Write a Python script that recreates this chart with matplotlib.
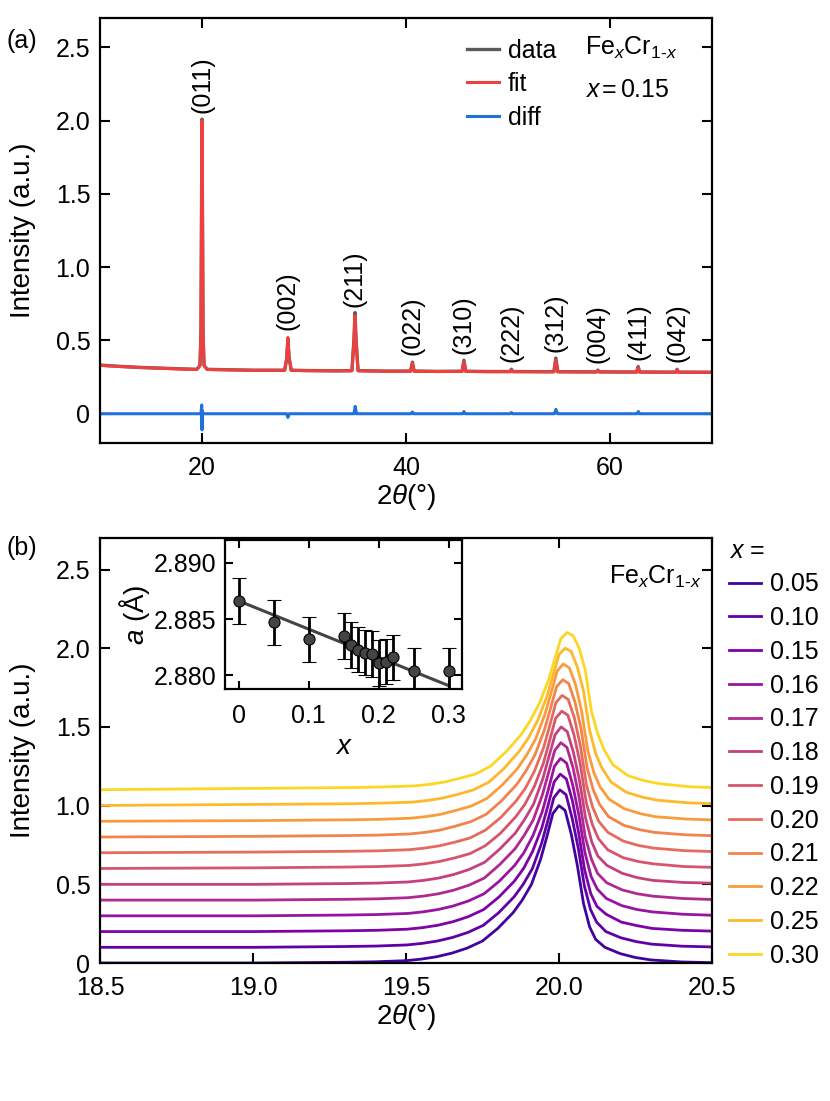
import numpy as np
import matplotlib
matplotlib.use("Agg")
import matplotlib.pyplot as plt
from matplotlib.ticker import FixedLocator, FixedFormatter

plt.rcParams['font.family'] = ['Liberation Sans', 'DejaVu Sans']
plt.rcParams['mathtext.fontset'] = 'custom'
plt.rcParams['mathtext.rm'] = 'Liberation Sans'
plt.rcParams['mathtext.it'] = 'Liberation Sans:italic'
plt.rcParams['font.size'] = 18

# ---- (a) powder pattern, x = 0.15 ----
two_theta = [10, 12, 14, 16, 18, 19.5,
             19.8, 19.9, 19.96, 20.0, 20.04, 20.1, 20.2,
             20.5, 22, 25,
             28.1, 28.3, 28.42, 28.54, 28.75,
             30, 33,
             34.7, 34.9, 35.0, 35.1, 35.3,
             38,
             40.45, 40.63, 40.8,
             43,
             45.5, 45.68, 45.86,
             48,
             50.2, 50.33, 50.46,
             53,
             54.5, 54.69, 54.88,
             57,
             58.7, 58.81, 58.95,
             61,
             62.62, 62.76, 62.9,
             65,
             66.45, 66.58, 66.7,
             70]
fit_int = [0.330, 0.322, 0.315, 0.310, 0.305, 0.302,
           0.33, 0.55, 1.50, 2.00, 1.50, 0.55, 0.33,
           0.302, 0.300, 0.296,
           0.296, 0.38, 0.52, 0.38, 0.296,
           0.294, 0.292,
           0.293, 0.50, 0.67, 0.50, 0.293,
           0.290,
           0.290, 0.345, 0.290,
           0.288,
           0.289, 0.355, 0.289,
           0.287,
           0.287, 0.300, 0.287,
           0.286,
           0.286, 0.365, 0.286,
           0.285,
           0.285, 0.295, 0.285,
           0.284,
           0.284, 0.315, 0.284,
           0.283,
           0.283, 0.300, 0.283,
           0.282]
data_int = [0.332, 0.323, 0.316, 0.311, 0.306, 0.303,
            0.33, 0.56, 1.52, 2.01, 1.49, 0.55, 0.33,
            0.303, 0.301, 0.297,
            0.297, 0.37, 0.51, 0.38, 0.297,
            0.295, 0.293,
            0.294, 0.51, 0.69, 0.51, 0.294,
            0.291,
            0.291, 0.352, 0.291,
            0.289,
            0.290, 0.365, 0.290,
            0.288,
            0.288, 0.304, 0.288,
            0.287,
            0.287, 0.380, 0.287,
            0.286,
            0.286, 0.298, 0.286,
            0.285,
            0.285, 0.322, 0.285,
            0.284,
            0.284, 0.303, 0.284,
            0.283]
diff_x = [10, 19.9, 19.97, 20.0, 20.03, 20.1, 28.3, 28.42, 28.55,
          34.9, 35.02, 35.15, 40.5, 40.63, 40.75, 45.55, 45.68, 45.8,
          50.2, 50.33, 50.45, 54.55, 54.7, 54.85, 62.65, 62.78, 62.9, 70]
diff_y = [0, 0, 0.06, -0.11, 0.02, 0, 0, -0.025, 0,
          0, 0.05, 0, 0, 0.012, 0, 0, 0.015, 0,
          0, 0.008, 0, 0, 0.03, 0, 0, 0.015, 0, 0]

hkl_labels = ['(011)', '(002)', '(211)', '(022)', '(310)',
              '(222)', '(312)', '(004)', '(411)', '(042)']
hkl_pos = [20.0, 28.42, 35.0, 40.63, 45.68, 50.33, 54.69, 58.81, 62.76, 66.58]
hkl_top = [2.00, 0.52, 0.68, 0.35, 0.36, 0.30, 0.37, 0.295, 0.315, 0.30]

# ---- (b) (011) peak vs x ----
x_values = ['0.05', '0.10', '0.15', '0.16', '0.17', '0.18',
            '0.19', '0.20', '0.21', '0.22', '0.25', '0.30']
offsets = [0.0, 0.1, 0.2, 0.3, 0.4, 0.5, 0.6, 0.7, 0.8, 0.9, 1.0, 1.1]
centers = [20.000, 20.003, 20.004, 20.005, 20.006, 20.007,
           20.009, 20.010, 20.012, 20.014, 20.020, 20.026]
dx = [-1.6, -1.0, -0.7, -0.6, -0.5, -0.45, -0.4, -0.35, -0.3, -0.25, -0.2,
      -0.15, -0.12, -0.09, -0.06, -0.04, -0.02, 0.0,
      0.02, 0.04, 0.06, 0.08, 0.1, 0.12, 0.15, 0.2, 0.25, 0.3, 0.4, 0.55]
profiles = [
    [0, 0, 0.005, 0.008, 0.015, 0.025, 0.04, 0.063, 0.095, 0.14, 0.22, 0.32, 0.40, 0.50, 0.66, 0.80, 0.95,
     1.0, 0.97, 0.82, 0.62, 0.38, 0.23, 0.15, 0.10, 0.06, 0.035, 0.02, 0.007, 0.0],
    [0, 0, 0.005, 0.008, 0.015, 0.025, 0.04, 0.063, 0.095, 0.14, 0.22, 0.32, 0.40, 0.50, 0.66, 0.80, 0.95,
     1.0, 0.97, 0.82, 0.63, 0.39, 0.24, 0.16, 0.10, 0.06, 0.036, 0.02, 0.007, 0.0],
    [0, 0, 0.005, 0.008, 0.015, 0.025, 0.04, 0.063, 0.095, 0.14, 0.22, 0.32, 0.40, 0.51, 0.66, 0.80, 0.95,
     1.0, 0.97, 0.83, 0.63, 0.39, 0.24, 0.16, 0.11, 0.06, 0.038, 0.02, 0.008, 0.0],
    [0, 0, 0.005, 0.008, 0.015, 0.025, 0.04, 0.063, 0.095, 0.14, 0.22, 0.32, 0.40, 0.51, 0.66, 0.80, 0.95,
     1.0, 0.97, 0.83, 0.64, 0.40, 0.25, 0.17, 0.11, 0.065, 0.04, 0.025, 0.01, 0.0],
    [0, 0, 0.005, 0.008, 0.015, 0.025, 0.04, 0.063, 0.095, 0.14, 0.225, 0.325, 0.41, 0.51, 0.67, 0.81, 0.95,
     1.0, 0.97, 0.84, 0.65, 0.40, 0.26, 0.17, 0.11, 0.065, 0.04, 0.025, 0.01, 0.0],
    [0, 0, 0.005, 0.008, 0.015, 0.025, 0.04, 0.063, 0.095, 0.14, 0.225, 0.325, 0.41, 0.51, 0.67, 0.81, 0.95,
     1.0, 0.97, 0.84, 0.66, 0.42, 0.27, 0.18, 0.12, 0.07, 0.042, 0.025, 0.012, 0.005],
    [0, 0.005, 0.01, 0.013, 0.02, 0.03, 0.045, 0.068, 0.095, 0.145, 0.225, 0.33, 0.41, 0.52, 0.67, 0.81, 0.955,
     1.0, 0.975, 0.85, 0.67, 0.42, 0.28, 0.19, 0.12, 0.07, 0.045, 0.03, 0.013, 0.005],
    [0, 0.005, 0.01, 0.013, 0.02, 0.03, 0.045, 0.068, 0.095, 0.145, 0.225, 0.33, 0.41, 0.52, 0.67, 0.81, 0.955,
     1.0, 0.975, 0.86, 0.68, 0.43, 0.29, 0.20, 0.13, 0.075, 0.047, 0.03, 0.014, 0.005],
    [0, 0.005, 0.01, 0.013, 0.02, 0.03, 0.045, 0.07, 0.098, 0.145, 0.23, 0.335, 0.42, 0.525, 0.68, 0.815, 0.955,
     1.0, 0.975, 0.86, 0.69, 0.44, 0.30, 0.21, 0.13, 0.075, 0.048, 0.03, 0.015, 0.005],
    [0, 0.005, 0.01, 0.013, 0.02, 0.03, 0.045, 0.07, 0.098, 0.145, 0.23, 0.335, 0.42, 0.525, 0.68, 0.815, 0.955,
     1.0, 0.975, 0.87, 0.70, 0.45, 0.31, 0.22, 0.14, 0.08, 0.05, 0.03, 0.015, 0.005],
    [0, 0.008, 0.012, 0.016, 0.022, 0.033, 0.048, 0.072, 0.10, 0.148, 0.235, 0.345, 0.43, 0.54, 0.69, 0.825, 0.96,
     1.0, 0.98, 0.88, 0.73, 0.48, 0.33, 0.24, 0.15, 0.085, 0.055, 0.035, 0.018, 0.008],
    [0, 0.01, 0.015, 0.019, 0.025, 0.035, 0.05, 0.074, 0.10, 0.15, 0.24, 0.35, 0.44, 0.55, 0.70, 0.83, 0.96,
     1.0, 0.98, 0.90, 0.76, 0.50, 0.36, 0.26, 0.16, 0.09, 0.06, 0.04, 0.02, 0.01],
]

# ---- inset: lattice parameter ----
inset_x = [0, 0.05, 0.10, 0.15, 0.16, 0.17, 0.18, 0.19, 0.20, 0.21, 0.22, 0.25, 0.30]
inset_a = [2.8866, 2.8847, 2.8832, 2.8835, 2.8827, 2.8823, 2.8820, 2.8819,
           2.8811, 2.8812, 2.8816, 2.8804, 2.8804]
inset_err = [0.002] * 13
fit_x = [0, 0.30]
fit_a = [2.8866, 2.8791]


def style_axes(ax, length=7, xpad=9, ypad=7):
    ax.tick_params(direction='in', top=True, right=True, length=length,
                   width=1.5)
    ax.tick_params(axis='x', pad=xpad)
    ax.tick_params(axis='y', pad=ypad)
    for s in ax.spines.values():
        s.set_linewidth(1.6)


fig = plt.figure(figsize=(8.3, 11.01), dpi=100)

# panel (a)
ax1 = fig.add_axes([0.1205, 0.5976, 0.7373, 0.386])
ax1.plot(two_theta, data_int, color='#5a5a5a', lw=2.4, label='data')
ax1.plot(two_theta, fit_int, color='#ef4040', lw=2.2, label='fit')
ax1.plot(diff_x, diff_y, color='#2070dd', lw=2.2, label='diff')
for lab, p, h in zip(hkl_labels, hkl_pos, hkl_top):
    ax1.text(p, h + 0.05, lab, rotation=90, ha='center', va='bottom')
ax1.set_xlim(10, 70)
ax1.set_ylim(-0.2, 2.7)
ax1.xaxis.set_major_locator(FixedLocator([20, 40, 60]))
ax1.yaxis.set_major_locator(FixedLocator([0, 0.5, 1.0, 1.5, 2.0, 2.5]))
ax1.yaxis.set_major_formatter(FixedFormatter(['0', '0.5', '1.0', '1.5', '2.0', '2.5']))
ax1.set_xlabel(r'2$\theta$(°)', labelpad=2, fontsize=20)
ax1.set_ylabel('Intensity (a.u.)', labelpad=14, fontsize=20)
style_axes(ax1)
ax1.legend(loc='upper left', bbox_to_anchor=(0.583, 0.975), frameon=False,
           handlelength=1.3, handletextpad=0.35, labelspacing=0.38,
           borderaxespad=0)
ax1.text(0.7925, 0.929, r'Fe$_x$Cr$_{1\text{-}x}$', transform=ax1.transAxes,
         ha='left', va='center')
ax1.text(0.7925, 0.83, r'$x\,$=$\,$0.15', transform=ax1.transAxes,
         ha='left', va='center')
fig.text(0.008, 0.963, '(a)', ha='left', va='center')

# panel (b)
ax2 = fig.add_axes([0.1205, 0.1253, 0.7373, 0.386])
colors = plt.cm.plasma(np.linspace(0.1, 0.92, len(x_values)))
dx_arr = np.array(dx)
for lab, off, c0, prof, col in zip(x_values, offsets, centers, profiles, colors):
    ax2.plot(c0 + dx_arr, np.array(prof) + off, color=col, lw=2.0, label=lab)
ax2.set_xlim(18.5, 20.5)
ax2.set_ylim(0, 2.7)
ax2.xaxis.set_major_locator(FixedLocator([18.5, 19.0, 19.5, 20.0, 20.5]))
ax2.xaxis.set_major_formatter(FixedFormatter(['18.5', '19.0', '19.5', '20.0', '20.5']))
ax2.yaxis.set_major_locator(FixedLocator([0, 0.5, 1.0, 1.5, 2.0, 2.5]))
ax2.yaxis.set_major_formatter(FixedFormatter(['0', '0.5', '1.0', '1.5', '2.0', '2.5']))
ax2.set_xlabel(r'2$\theta$(°)', labelpad=2, fontsize=20)
ax2.set_ylabel('Intensity (a.u.)', labelpad=14, fontsize=20)
style_axes(ax2)
leg = ax2.legend(loc='upper left', bbox_to_anchor=(1.0, 1.04), frameon=False,
                 title=r'$x$ =', alignment='left', handlelength=1.25,
                 handletextpad=0.36, labelspacing=0.39, borderaxespad=0.3,
                 title_fontsize=18)
ax2.text(0.982, 0.908, r'Fe$_x$Cr$_{1\text{-}x}$', transform=ax2.transAxes,
         ha='right', va='center')
fig.text(0.008, 0.502, '(b)', ha='left', va='center')

# inset
ax3 = fig.add_axes([0.271, 0.3742, 0.2855, 0.1353])
ax3.plot(fit_x, fit_a, color='#444444', lw=2.2, zorder=1)
ax3.errorbar(inset_x, inset_a, yerr=inset_err, fmt='o', color='#444444',
             ecolor='black', elinewidth=2, capsize=5, capthick=2,
             markersize=8, markeredgecolor='black', markeredgewidth=0.8, zorder=2)
ax3.set_xlim(-0.02, 0.319)
ax3.set_ylim(2.8788, 2.892)
ax3.xaxis.set_major_locator(FixedLocator([0, 0.1, 0.2, 0.3]))
ax3.xaxis.set_major_formatter(FixedFormatter(['0', '0.1', '0.2', '0.3']))
ax3.yaxis.set_major_locator(FixedLocator([2.880, 2.885, 2.890]))
ax3.yaxis.set_major_formatter(FixedFormatter(['2.880', '2.885', '2.890']))
ax3.set_xlabel(r'$x$', labelpad=4, fontsize=20)
ax3.set_ylabel(r'$a$ (Å)', labelpad=1, fontsize=20)
style_axes(ax3, length=6, xpad=11, ypad=6)

fig.savefig('out.png', dpi=100)
